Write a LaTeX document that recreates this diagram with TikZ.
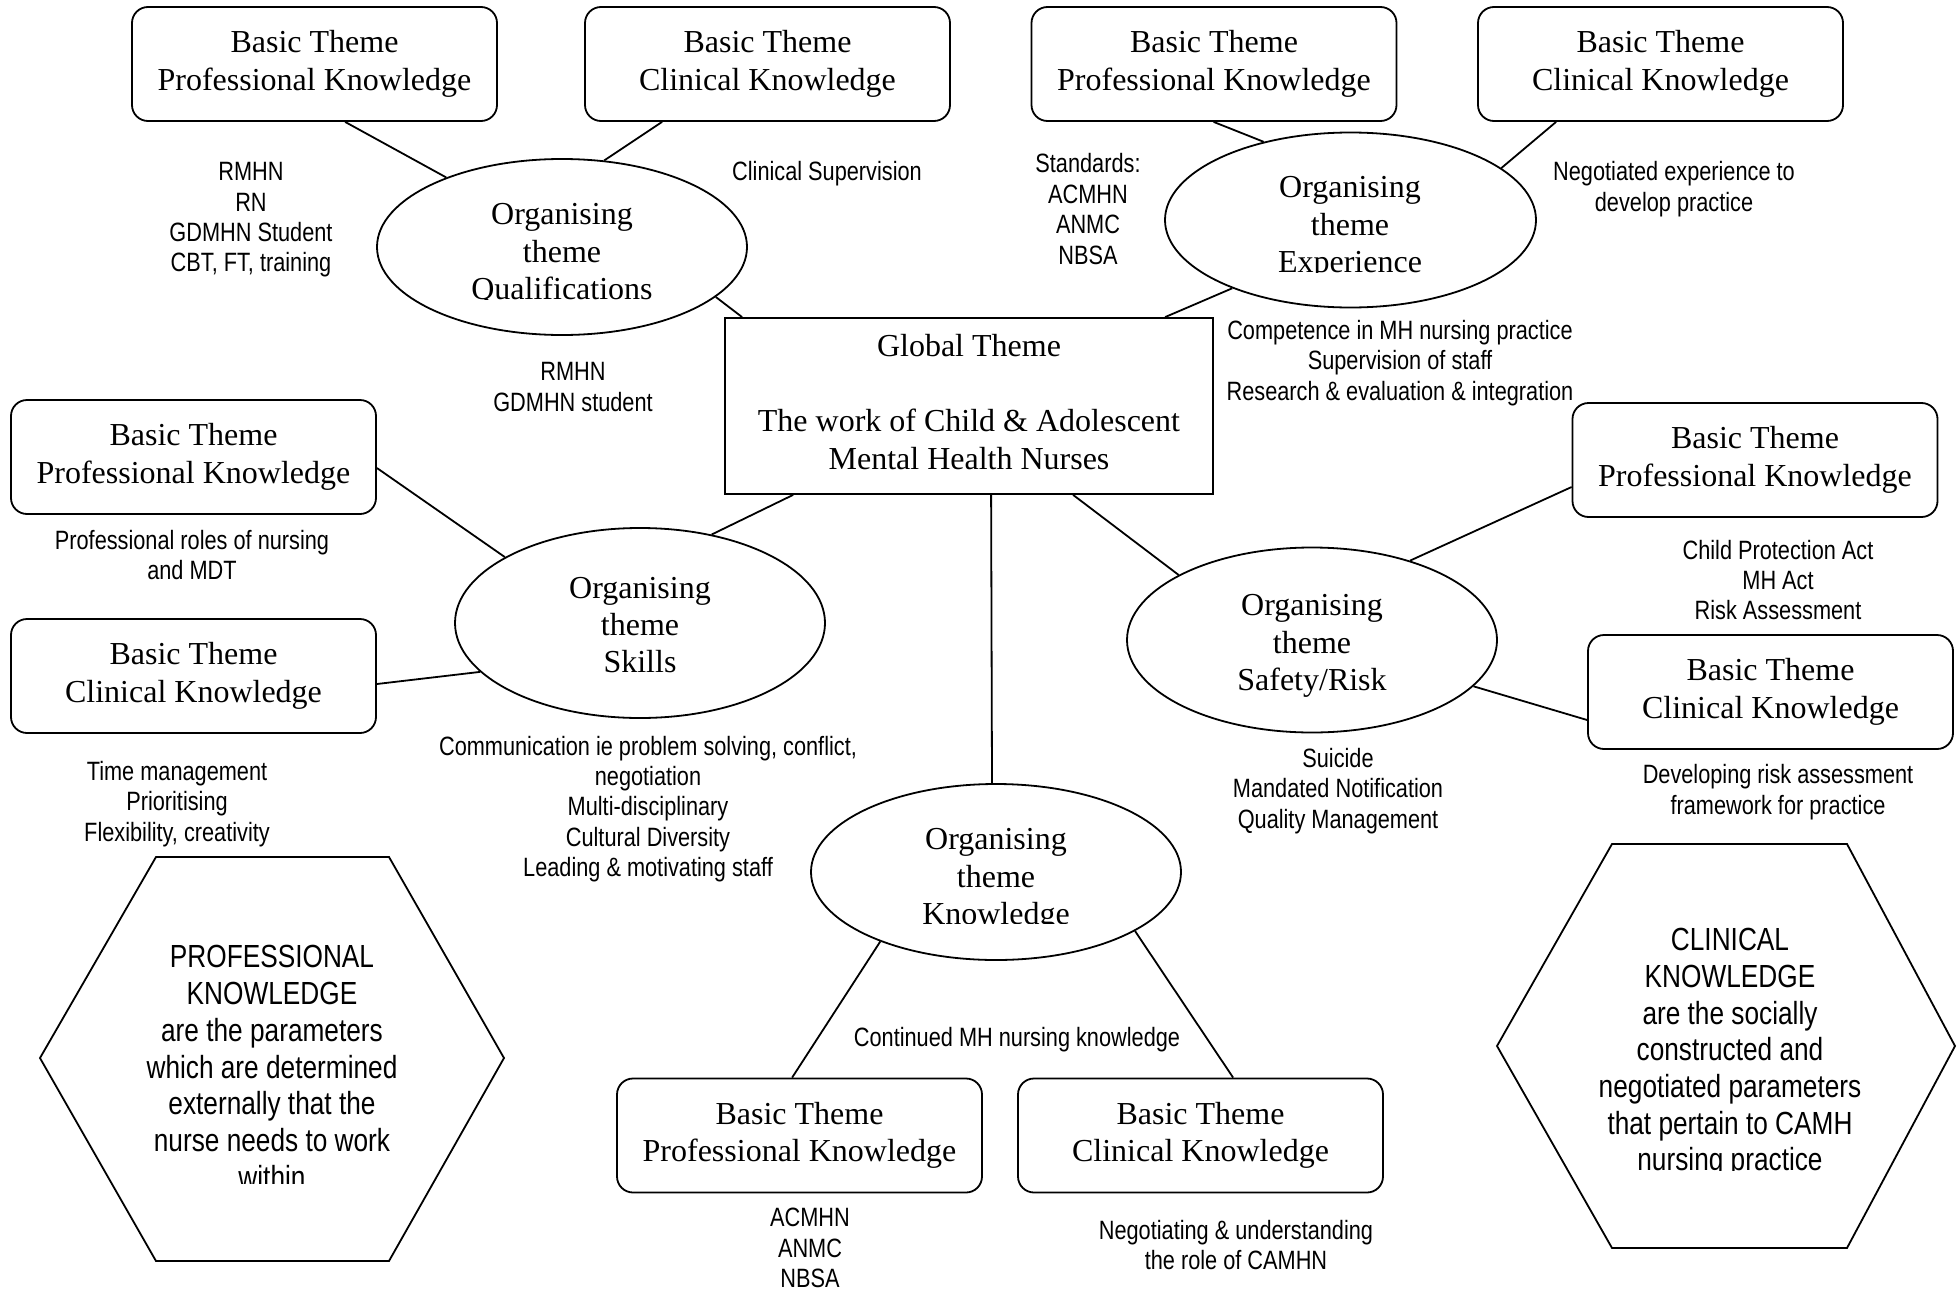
\documentclass[tikz,border=0pt]{standalone}
\usepackage{fontspec}
\setmainfont{Liberation Serif}
\newfontfamily\labelfont[FakeStretch=0.82]{Liberation Sans}
\usetikzlibrary{shapes.geometric,calc}

\begin{document}
\begin{tikzpicture}[x=1pt,y=-1pt,line width=1.8pt,
  basic/.style={draw,rounded corners=16pt,minimum width=365pt,minimum height=114pt,
    inner sep=0pt,align=center,font=\fontsize{32}{37.4}\selectfont},
  globalbox/.style={draw,minimum width=488pt,minimum height=176pt,inner sep=0pt,
    align=center,font=\fontsize{32}{37.4}\selectfont},
  orgshape/.style={draw,ellipse,inner sep=0pt},
  orgtext/.style={align=center,inner sep=0pt,font=\fontsize{32}{37.4}\selectfont},
  lab/.style={align=center,inner sep=0pt,font=\labelfont\fontsize{26.5}{30.4}\selectfont},
  hextext/.style={align=center,inner sep=0pt,font=\labelfont\fontsize{32}{36.7}\selectfont}]

\useasboundingbox (0,0) rectangle (1957,1290);
\fill[white] (0,0) rectangle (1957,1290);

% global theme
\node[globalbox] (glob) at (969,406) {};
\node[orgtext] (globtxt) at (969,402)
  {Global Theme\\\mbox{}\\The work of Child \& Adolescent\\Mental Health Nurses};

% organising themes
\node[orgshape,minimum width=370pt,minimum height=176pt] (qual) at (562,247) {};
\node[orgshape,minimum width=371pt,minimum height=175pt] (exp) at (1350.5,220) {};
\node[orgshape,minimum width=370pt,minimum height=190pt] (skills) at (640,623) {};
\node[orgshape,minimum width=370pt,minimum height=185pt] (safety) at (1312,640) {};
\node[orgshape,minimum width=370pt,minimum height=176pt] (know) at (996,872) {};

\begin{scope}
  \clip (360,150) rectangle (760,299);
  \node[orgtext] (qualtxt) at (562,254) {Organising\\theme\\Qualifications};
\end{scope}
\begin{scope}
  \clip (1150,120) rectangle (1550,272);
  \node[orgtext] (exptxt) at (1350,228) {Organising\\theme\\Experience};
\end{scope}
\node[orgtext] (skillstxt) at (640,625) {Organising\\theme\\Skills};
\node[orgtext] (safetytxt) at (1312,646) {Organising\\theme\\Safety/Risk};
\begin{scope}
  \clip (800,780) rectangle (1200,923);
  \node[orgtext] (knowtxt) at (996,880) {Organising\\theme\\Knowledge};
\end{scope}

% basic themes
\node[basic] (b1) at (314.5,64) {Basic Theme\\Professional Knowledge};
\node[basic] (b2) at (767.5,64) {Basic Theme\\Clinical Knowledge};
\node[basic] (b3) at (1214,64) {Basic Theme\\Professional Knowledge};
\node[basic] (b4) at (1660.5,64) {Basic Theme\\Clinical Knowledge};
\node[basic] (bl1) at (193.5,457) {Basic Theme\\Professional Knowledge};
\node[basic] (bl2) at (193.5,676) {Basic Theme\\Clinical Knowledge};
\node[basic] (br1) at (1755,460) {Basic Theme\\Professional Knowledge};
\node[basic] (br2) at (1770.5,692) {Basic Theme\\Clinical Knowledge};
\node[basic] (bb1) at (799.5,1135.5) {Basic Theme\\Professional Knowledge};
\node[basic] (bb2) at (1200.5,1135.5) {Basic Theme\\Clinical Knowledge};

% connectors
\draw ([xshift=214pt]b1.south west) -- (qual.149);
\draw ([xshift=78pt]b2.south west) -- (qual.64);
\draw (qual.342) -- ([xshift=18pt]glob.north west);
\draw ([xshift=183pt]b3.south west) -- (exp.138);
\draw ([xshift=79pt]b4.south west) -- (exp.19);
\draw (exp.210) -- ([xshift=441pt]glob.north west);
\draw ([xshift=69pt]glob.south west) -- (skills.51);
\draw ([yshift=-11pt]bl1.east) -- (skills.154);
\draw ([yshift=-8pt]bl2.east) -- (skills.197);
\draw ([xshift=349pt]glob.south west) -- (safety.154);
\draw (safety.39) -- ([yshift=-27pt]br1.west);
\draw (safety.344) -- ([yshift=-28pt]br2.west);
\draw ([xshift=267pt]glob.south west) -- ([xshift=-4pt]know.north);
\draw (know.211) -- ([xshift=176pt]bb1.north west);
\draw (know.337) -- ([xshift=216pt]bb2.north west);

% notes beside the themes
\node[lab] (n1) at (251,220) {RMHN\\RN\\GDMHN Student\\CBT, FT, training};
\node[lab] (n2) at (827,174) {Clinical Supervision};
\node[lab] (n3) at (573,387) {RMHN\\GDMHN student};
\node[lab] (n4) at (1088,209) {Standards:\\ACMHN\\ANMC\\NBSA};
\node[lab] (n5) at (1674,189) {Negotiated experience to\\develop practice};
\node[lab] (n6) at (1400,363) {Competence in MH nursing practice\\Supervision of staff\\Research \& evaluation \& integration};
\node[lab] (n7) at (192,555) {Professional roles of nursing\\and MDT};
\node[lab] (n8) at (177,804) {Time management\\Prioritising\\Flexibility, creativity};
\node[lab] (n9) at (648,809) {Communication ie problem solving, conflict,\\negotiation\\Multi-disciplinary\\Cultural Diversity\\Leading \& motivating staff};
\node[lab] (n10) at (1778,580) {Child Protection Act\\MH Act\\Risk Assessment};
\node[lab] (n11) at (1338,791) {Suicide\\Mandated Notification\\Quality Management};
\node[lab] (n12) at (1778,792) {Developing risk assessment\\framework for practice};
\node[lab] (n13) at (1017,1040) {Continued MH nursing knowledge};
\node[lab] (n14) at (810,1248) {ACMHN\\ANMC\\NBSA};
\node[lab] (n15) at (1236,1245) {Negotiating \& understanding\\the role of CAMHN};

% definition hexagons
\draw (156,857) -- (389,857) -- (504,1058) -- (389,1261) -- (156,1261) -- (40,1058) -- cycle;
\draw (1612,844) -- (1847,844) -- (1955,1046) -- (1847,1248) -- (1612,1248) -- (1497,1046) -- cycle;
\begin{scope}
  \clip (60,860) rectangle (480,1183);
  \node[hextext] (hexl) at (272,1067) {PROFESSIONAL\\KNOWLEDGE\\are the parameters\\which are determined\\externally that the\\nurse needs to work\\within};
\end{scope}
\begin{scope}
  \clip (1510,850) rectangle (1940,1170);
  \node[hextext] (hexr) at (1730,1053) {CLINICAL\\KNOWLEDGE\\are the socially\\constructed and\\negotiated parameters\\that pertain to CAMH\\nursing practice};
\end{scope}
\end{tikzpicture}
\end{document}
